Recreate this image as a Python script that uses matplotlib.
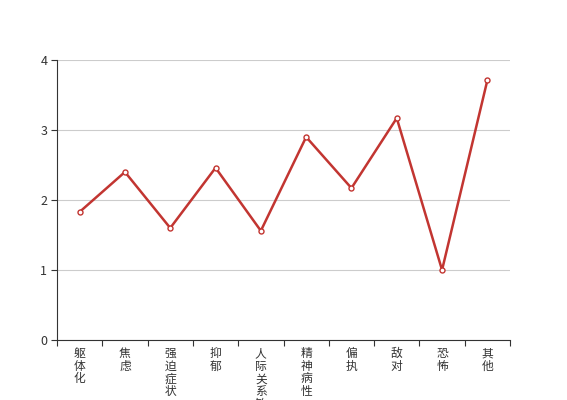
import matplotlib
matplotlib.use("Agg")
import matplotlib.pyplot as plt
import numpy as np

categories = ["躯体化", "焦虑", "强迫症状", "抑郁", "人际关系敏感", "精神病性", "偏执", "敌对", "恐怖", "其他"]
values = [1.83, 2.40, 1.60, 2.46, 1.56, 2.90, 2.17, 3.17, 1.00, 3.71]
yticks = [0, 1, 2, 3, 4]

plt.rcParams['font.family'] = ['Noto Sans CJK SC', 'DejaVu Sans']

fig = plt.figure(figsize=(5.67, 4.0), dpi=100)
ax = fig.add_axes([57/567, 1 - 340/400, (510-57)/567, (340-60)/400])

n = len(categories)
x = np.arange(n) + 0.5
ax.plot(x, values, color="#c23531", lw=1.8, marker="o", ms=3.6,
        mfc="white", mec="#c23531", mew=1, zorder=3)

ax.set_xlim(0, n)
ax.set_ylim(0, 4)
ax.set_yticks(yticks)
ax.set_xticks(np.arange(n + 1))
ax.set_xticklabels([])
ax.grid(axis="y", color="#cccccc", lw=0.8)
ax.set_axisbelow(True)
for s in ["top", "right"]:
    ax.spines[s].set_visible(False)
ax.spines["left"].set_color("#333333")
ax.spines["bottom"].set_color("#333333")
ax.tick_params(axis="both", colors="#333333", length=4, width=0.8, labelsize=9)
ax.tick_params(axis="y", pad=3)

for xi, c in zip(x, categories):
    ax.text(xi, -0.025, "\n".join(c), transform=ax.get_xaxis_transform(),
            ha="center", va="top", fontsize=8.5, color="#333333", linespacing=0.97,
            clip_on=False)

fig.savefig("out.png", dpi=100)
